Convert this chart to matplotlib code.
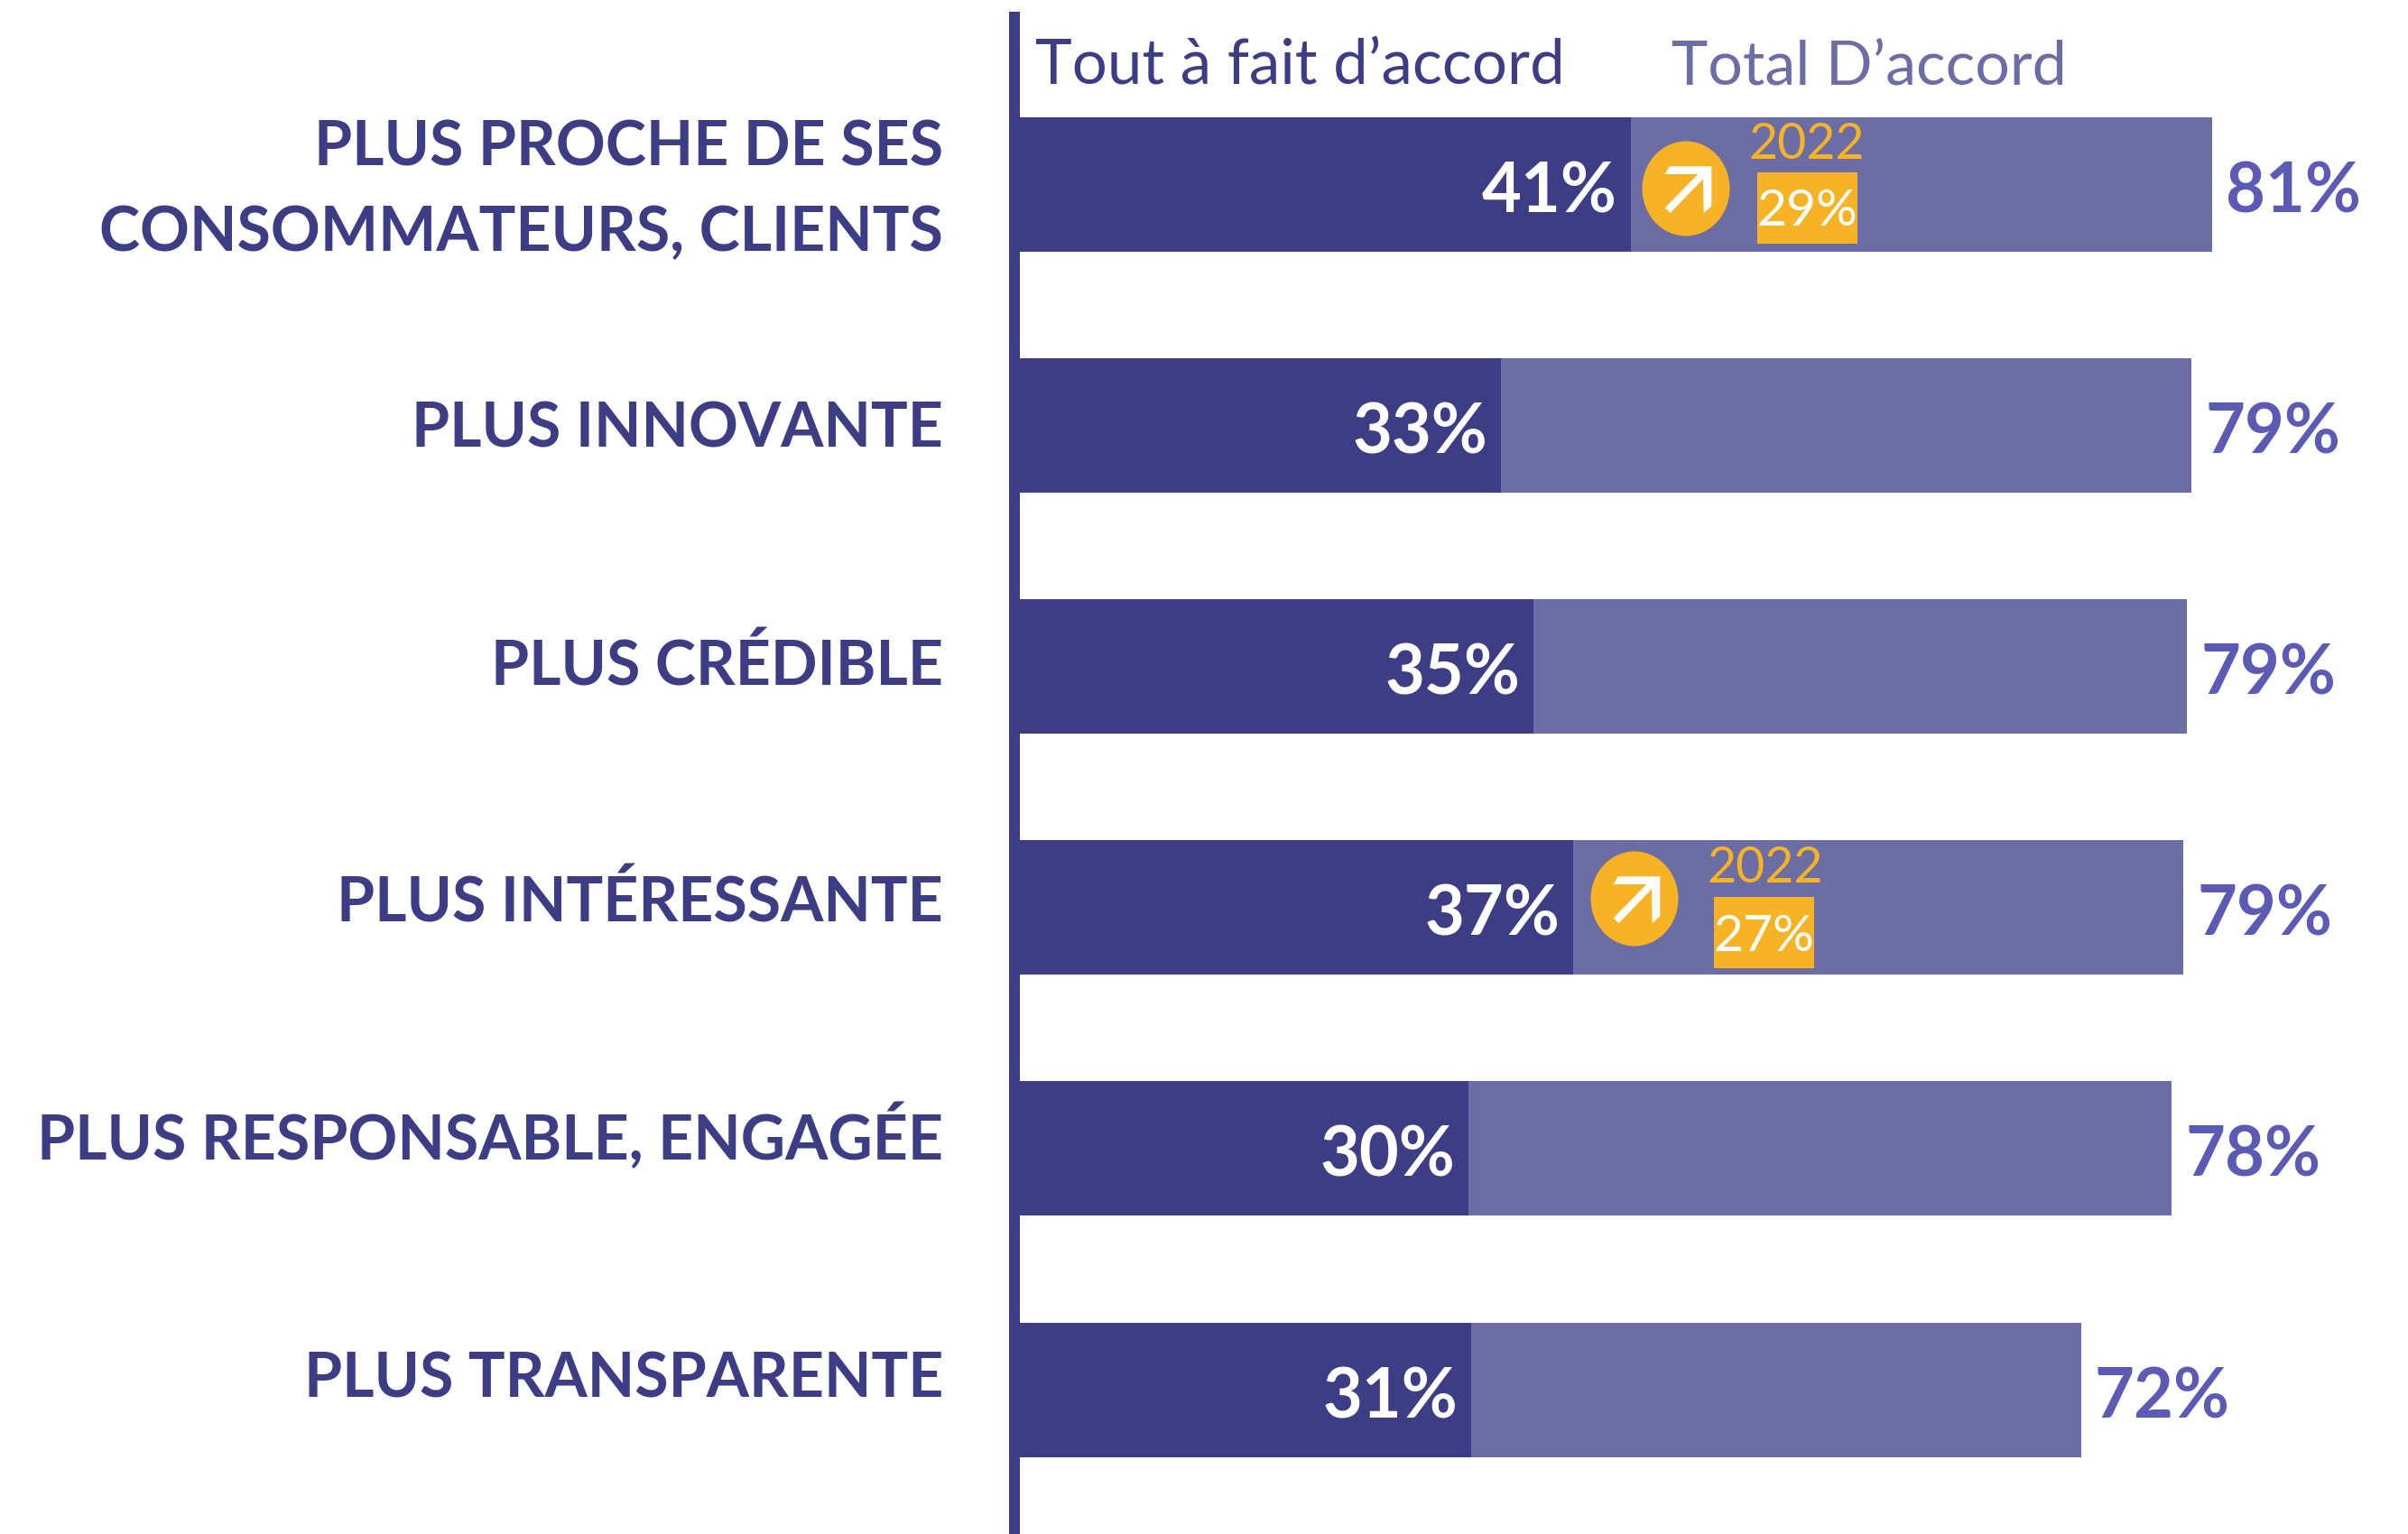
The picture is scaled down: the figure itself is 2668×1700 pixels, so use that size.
import matplotlib
matplotlib.use("Agg")
import matplotlib.pyplot as plt
from matplotlib.patches import Ellipse, Polygon, Rectangle

categories = ["PLUS PROCHE DE SES\nCONSOMMATEURS, CLIENTS", "PLUS INNOVANTE", "PLUS CRÉDIBLE",
              "PLUS INTÉRESSANTE", "PLUS RESPONSABLE, ENGAGÉE", "PLUS TRANSPARENTE"]
tout_a_fait = [41.4, 32.6, 34.8, 37.5, 30.4, 30.6]
total = [80.8, 79.4, 79.1, 78.85, 78.05, 71.9]
tout_labels = ["41%", "33%", "35%", "37%", "30%", "31%"]
total_labels = ["81%", "79%", "79%", "79%", "78%", "72%"]
callout_rows = [0, 3]
callout_year = ["2022", "2022"]
callout_labels = ["29%", "27%"]

DARK, LIGHT, OUTER, GOLD = "#3D3D85", "#6D6DA5", "#5B5BB5", "#F5B325"
W, H = 2668, 1700
X0, PXPCT = 1130, 16.35
Y0, PITCH = 204.5, 267.1
plt.rcParams["font.family"] = ["Lato", "DejaVu Sans"]

fig = plt.figure(figsize=(W / 100, H / 100), dpi=100, facecolor="white")
ax = fig.add_axes([0, 0, 1, 1])
ax.set_xlim(-X0 / PXPCT, (W - X0) / PXPCT)
ax.set_ylim((H - Y0) / PITCH, -Y0 / PITCH)
ax.axis("off")

dx = lambda p: p / PXPCT
dy = lambda p: p / PITCH
py = lambda p: (p - Y0) / PITCH
px = lambda p: (p - X0) / PXPCT
rows = list(range(len(categories)))
BH = 149 / PITCH

ax.barh(rows, total, height=BH, color=LIGHT, zorder=2)
ax.barh(rows, tout_a_fait, height=BH, color=DARK, zorder=3)
ax.add_patch(Rectangle((px(1118), py(13)), dx(12), dy(H), color=DARK, lw=0, zorder=4))

label_shift = [7, 4, 0, -5, -13, -11]
for r, c, s in zip(rows, categories, label_shift):
    ax.text(px(1045), r + dy(s), c, ha="right", va="center", fontsize=49, fontweight="bold",
            color=DARK, linespacing=1.63, zorder=5)
for r, v, l in zip(rows, tout_a_fait, tout_labels):
    ax.text(v - dx(15), r + dy(9), l, ha="right", va="center", fontsize=54.5, fontweight="bold",
            color="white", zorder=5)
for r, t, l in zip(rows, total, total_labels):
    ax.text(t + dx(15), r + dy(9), l, ha="left", va="center", fontsize=54.5, fontweight="bold",
            color=OUTER, zorder=5)

ax.text(px(1147), py(74), "Tout à fait d’accord", ha="left", va="center", fontsize=49.7, color=DARK)
ax.text(px(1852), py(75), "Total D’accord", ha="left", va="center", fontsize=49.1, color=LIGHT)

ARROW = [(277, 214), (417, 214), (417, 346), (391, 369), (389, 256), (280, 369), (262, 352), (372, 240), (262, 240)]
placement = [dict(cx=1868, cy=209, tx=2002, ty=160, rx=1947), dict(cx=1811, cy=996, tx=1956, ty=962, rx=1899)]
rect_top = [191, 994]
for pos, r, yr, lab, top in zip(placement, callout_rows, callout_year, callout_labels, rect_top):
    ax.add_patch(Ellipse((px(pos["cx"]), py(pos["cy"])), dx(97), dy(105), color=GOLD, lw=0, zorder=5))
    pts = [(px(pos["cx"] + (a - 332) / 3), py(pos["cy"] + (b - 288) / 3)) for a, b in ARROW]
    ax.add_patch(Polygon(pts, closed=True, color="white", lw=0, zorder=6))
    ax.text(px(pos["tx"]), py(pos["ty"]), yr, ha="center", va="center", fontsize=40, color=GOLD, zorder=6)
    ax.add_patch(Rectangle((px(pos["rx"]), py(top)), dx(111), dy(79), color=GOLD, lw=0, zorder=5))
    ax.text(px(pos["rx"] + 55.5), py(top + 44), lab, ha="center", va="center", fontsize=41, color="white", zorder=6)

fig.savefig("out.png", dpi=100, facecolor="white")
